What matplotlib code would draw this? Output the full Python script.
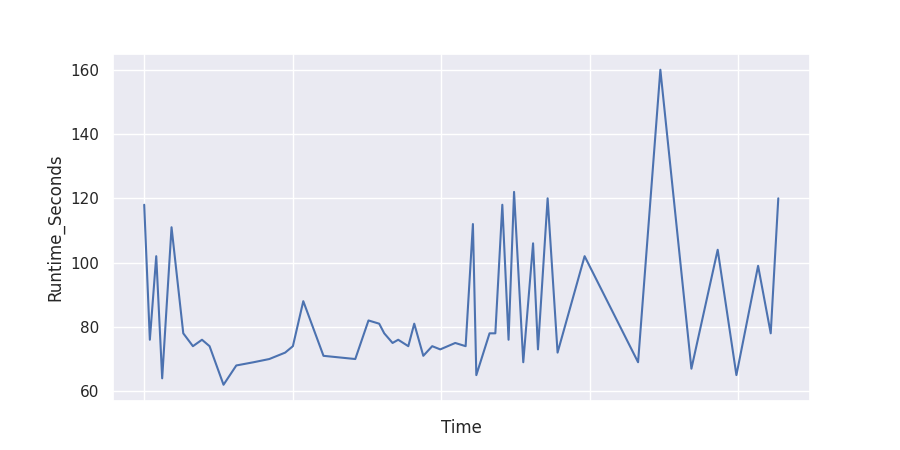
import matplotlib
matplotlib.use("Agg")
import matplotlib.pyplot as plt
import seaborn as sns
import pandas as pd

# time in days from the first run (tick labels are hidden in the original)
time_days = [0.000, 0.038, 0.081, 0.121, 0.184, 0.263, 0.328, 0.389, 0.440, 0.534,
             0.620, 0.736, 0.842, 0.949, 1.001, 1.071, 1.207, 1.421, 1.510, 1.582,
             1.616, 1.672, 1.710, 1.778, 1.818, 1.879, 1.939, 1.993, 2.094, 2.164,
             2.213, 2.236, 2.325, 2.364, 2.411, 2.453, 2.490, 2.552, 2.618, 2.651,
             2.716, 2.783, 2.965, 3.325, 3.475, 3.684, 3.861, 3.987, 4.133, 4.218,
             4.269]
runtime_seconds = [118, 76, 102, 64, 111, 78, 74, 76, 74, 62,
                   68, 69, 70, 72, 74, 88, 71, 70, 82, 81,
                   78, 75, 76, 74, 81, 71, 74, 73, 75, 74,
                   112, 65, 78, 78, 118, 76, 122, 69, 106, 73,
                   120, 72, 102, 69, 160, 67, 104, 65, 99, 78,
                   120]
tick_positions = [0, 1, 2, 3, 4]

df = pd.DataFrame({"Time": time_days, "Runtime_Seconds": runtime_seconds})

sns.set_theme()
fig = plt.figure(figsize=(9, 4.5), dpi=100)
ax = sns.lineplot(data=df, x="Time", y="Runtime_Seconds")
ax.set_xticks(tick_positions)
ax.set_xticklabels([])
ax.set_yticks([60, 80, 100, 120, 140, 160])
fig.savefig("out.png", dpi=100)
